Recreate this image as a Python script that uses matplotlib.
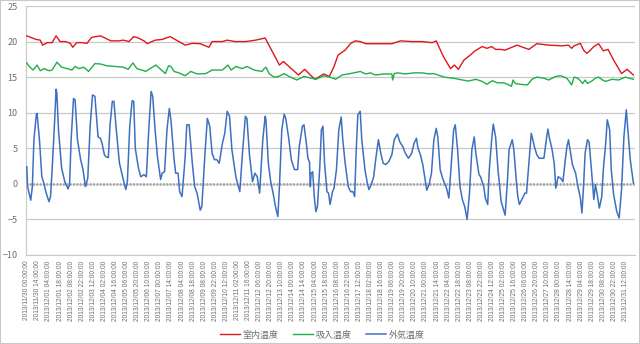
import matplotlib
matplotlib.use("Agg")
import matplotlib.pyplot as plt
from datetime import datetime, timedelta

plt.rcParams['font.family'] = ['Noto Sans CJK JP', 'DejaVu Sans']

# hours counted from 2013/11/30 00:00
out_h = [0, 1, 5, 7, 9, 12, 13, 16, 19, 22, 24, 28, 30, 32, 35, 37, 38, 40, 44, 48, 52, 54, 56, 59, 61, 64, 68, 71, 74, 77,
         80, 83, 86, 88, 90, 93, 95, 98, 100, 103, 105, 108, 110, 113, 117, 121, 125, 127, 130, 133, 135, 137, 141, 144,
         148, 151, 154, 157, 159, 162, 165, 169, 171, 174, 177, 180, 182, 186, 188, 191, 193, 196, 200, 202, 205, 209, 212,
         215, 219, 221, 225, 228, 231, 234, 237, 240, 243, 247, 250, 253, 256, 259, 264, 266, 269, 272, 276, 278, 281, 285,
         288, 291, 294, 298, 301, 302, 305, 308, 311, 314, 317, 319, 322, 325, 327, 331, 334, 338, 342, 344, 348, 350, 353,
         355, 357, 358, 359, 361, 363, 365, 367, 370, 372, 374, 376, 379, 381, 383, 386, 388, 391, 394, 397, 399, 402, 406,
         409, 412, 414, 416, 418, 421, 423, 427, 430, 432, 435, 438, 441, 444, 447, 450, 453, 457, 461, 464, 468, 471, 475,
         478, 482, 486, 489, 492, 494, 497, 500, 503, 505, 508, 511, 514, 517, 519, 522, 525, 530, 533, 536, 539, 541, 544,
         547, 550, 553, 556, 559, 562, 565, 567, 571, 573, 577, 579, 582, 584, 587, 589, 592, 595, 598, 599, 604, 607, 609,
         613, 615, 618, 620, 622, 625, 629, 631, 634, 637, 639, 641, 644, 647, 653, 656, 658, 660, 663, 666, 668, 671, 674,
         677, 680, 682, 684, 686, 689, 693, 696, 699, 701, 703, 705, 708, 710, 713, 716, 718, 720, 723, 726, 728, 731, 733,
         736, 738, 741, 745, 748, 751, 754, 757, 759, 762, 766]
out_v = [2.4, -0.4, -2.3, -0.4, 6.2, 9.7, 9.9, 6.2, 1.0, -0.1, -1.1, -2.5, -1.8, 2.0, 8.5, 13.3, 12.7, 7.6, 2.2, 0.3, -0.7,
         -0.1, 6.2, 12.0, 11.8, 6.2, 3.4, 2.0, -0.4, 0.8, 8.1, 12.5, 12.3, 9.5, 6.6, 6.4, 5.7, 4.1, 3.8, 3.7, 8.1, 11.6, 11.6,
         7.6, 2.9, 1.0, -0.8, 0.3, 8.1, 11.7, 11.6, 5.0, 2.2, 1.0, 1.3, 1.0, 7.6, 13.0, 12.3, 7.6, 3.8, 0.6, 1.5, 1.7, 7.6,
         10.6, 9.0, 3.4, 1.5, 1.5, -1.1, -1.8, 3.8, 8.3, 8.3, 2.9, -0.4, -1.3, -3.7, -3.2, 4.3, 9.2, 8.1, 4.3, 3.4, 3.4, 2.9,
         5.7, 7.1, 10.2, 9.5, 4.8, 1.0, 0.1, -1.1, 3.8, 9.5, 9.2, 4.3, 0.3, 1.5, 1.0, -1.3, 6.2, 9.5, 9.0, 2.9, 0.3, -1.3,
         -3.2, -4.6, -0.4, 7.6, 9.8, 9.2, 6.2, 3.4, 2.0, 2.0, 5.2, 8.1, 8.3, 5.7, 3.6, 3.1, -0.4, 1.5, 1.7, -1.8, -3.9, -3.2,
         2.4, 7.6, 8.1, 2.9, -1.1, -1.3, -2.9, -1.1, -0.6, 2.0, 7.6, 9.4, 6.2, 2.9, -0.4, -1.1, -1.1, -1.8, 4.8, 9.7, 10.2,
         6.2, 2.0, 0.1, -0.8, -0.1, 1.0, 3.8, 6.2, 4.3, 2.9, 2.7, 3.1, 4.1, 6.2, 7.0, 5.9, 5.2, 4.3, 3.6, 4.3, 5.7, 6.4, 5.0,
         4.1, 2.7, 0.6, -0.9, -0.1, 1.5, 6.2, 7.8, 6.6, 2.0, 0.8, -0.6, -2.0, 2.9, 7.6, 8.3, 4.8, -0.4, -2.2, -3.2, -5.0,
         -1.3, 4.8, 6.6, 4.3, 1.3, 1.0, -0.4, -2.0, -2.9, 2.0, 6.2, 8.4, 6.6, 2.0, -1.3, -2.5, -4.4, 0.6, 4.8, 6.2, 4.8, 0.6,
         -1.8, -2.9, -2.2, -1.3, -1.3, 2.9, 7.1, 6.2, 5.2, 4.1, 3.6, 3.6, 6.2, 7.7, 6.4, 5.0, 2.9, -0.6, 1.0, 0.8, 0.3, 3.4,
         5.2, 6.2, 4.8, 2.7, 1.5, -0.4, -2.0, -4.1, -0.4, 4.3, 6.2, 5.9, 2.0, -2.2, -0.1, -1.3, -3.4, -1.8, 2.0, 5.7, 9.0,
         7.6, 2.0, -1.5, -3.9, -4.8, -0.8, 6.6, 10.4, 7.6, 3.4, 0.1]

room_h = [0, 7, 12, 17, 20, 26, 32, 37, 42, 49, 55, 58, 63, 70, 76, 82, 93, 99, 106, 116, 122, 129, 135, 141, 148, 152, 162,
          171, 181, 192, 200, 209, 219, 230, 234, 247, 253, 263, 276, 289, 301, 310, 319, 324, 335, 343, 351, 358, 364,
          375, 382, 388, 393, 402, 409, 415, 421, 428, 438, 451, 461, 472, 486, 499, 512, 517, 526, 535, 540, 545, 552,
          560, 566, 575, 581, 587, 592, 598, 604, 619, 634, 644, 659, 676, 684, 688, 691, 699, 703, 707, 710, 716, 722,
          728, 734, 741, 751, 758, 766]
room_v = [20.8, 20.5, 20.3, 20.2, 19.5, 19.85, 19.85, 20.8, 20.0, 20.0, 19.75, 19.2, 19.85, 19.85, 19.75, 20.6, 20.8, 20.5,
          20.1, 20.1, 20.2, 20.0, 20.7, 20.5, 20.1, 19.7, 20.2, 20.3, 20.7, 20.0, 19.5, 19.75, 19.7, 19.2, 20.0, 20.0, 20.2,
          20.0, 20.0, 20.2, 20.5, 18.6, 16.7, 17.2, 16.1, 15.3, 16.1, 15.3, 14.7, 15.45, 15.1, 16.5, 18.1, 18.8, 19.75, 20.1,
          20.0, 19.7, 19.7, 19.7, 19.7, 20.1, 20.0, 20.0, 19.85, 20.1, 17.9, 16.2, 16.7, 16.1, 17.4, 18.1, 18.7, 19.3, 19.05,
          19.3, 18.9, 18.9, 18.8, 19.5, 18.9, 19.7, 19.5, 19.4, 19.5, 19.05, 19.4, 19.75, 18.8, 18.35, 18.6, 19.3, 19.7,
          18.7, 18.9, 17.4, 15.5, 16.1, 15.3]

intake_h = [0, 3, 8, 13, 17, 22, 28, 32, 38, 44, 51, 57, 61, 66, 72, 78, 86, 93, 101, 112, 122, 128, 134, 139, 148, 150,
            163, 169, 175, 179, 182, 186, 192, 200, 207, 215, 226, 234, 247, 254, 258, 264, 272, 278, 287, 297, 299, 302,
            306, 312, 318, 325, 331, 341, 350, 365, 375, 383, 390, 398, 406, 413, 421, 428, 434, 440, 451, 461, 462, 464,
            468, 478, 489, 499, 508, 514, 527, 539, 550, 558, 567, 575, 581, 588, 594, 602, 607, 612, 614, 617, 623, 632,
            638, 644, 653, 659, 668, 674, 682, 688, 691, 696, 702, 705, 708, 714, 718, 722, 727, 731, 739, 747, 756, 766]
intake_v = [17.0, 16.5, 16.0, 16.7, 15.9, 16.2, 15.9, 16.0, 17.1, 16.4, 16.2, 16.0, 16.5, 16.2, 16.4, 15.8, 16.9, 16.85,
            16.6, 16.5, 16.4, 16.1, 17.0, 16.2, 15.9, 15.8, 16.7, 16.1, 15.5, 16.6, 16.5, 15.8, 15.6, 15.2, 15.8, 15.45,
            15.5, 16.0, 16.0, 16.7, 16.0, 16.5, 16.2, 16.5, 16.0, 15.8, 16.1, 16.4, 15.5, 15.0, 15.1, 15.5, 15.1, 14.6,
            15.1, 14.7, 15.2, 15.0, 14.7, 15.3, 15.45, 15.6, 15.8, 15.45, 15.6, 15.3, 15.45, 15.45, 14.6, 15.5, 15.6,
            15.45, 15.6, 15.6, 15.45, 15.5, 15.0, 14.85, 14.6, 14.45, 14.7, 14.4, 14.0, 14.5, 14.2, 14.2, 14.0, 13.7,
            14.6, 14.1, 14.0, 13.9, 14.7, 15.0, 14.85, 14.6, 15.1, 15.2, 14.85, 13.9, 15.0, 14.85, 14.1, 14.6, 14.1,
            14.5, 14.85, 15.0, 14.6, 14.4, 14.7, 14.6, 15.0, 14.7]

start = datetime(2013, 11, 30)
tick_hours = list(range(0, 757, 14))
tick_labels = [(start + timedelta(hours=h)).strftime('%Y/%m/%d %H:%M:%S') for h in tick_hours]

fig = plt.figure(figsize=(6.4, 3.44), dpi=100)
ax = fig.add_axes([26 / 640, 1 - 255 / 344, 609 / 640, 249 / 344])

ax.plot(room_h, room_v, color='#e0161c', lw=1.0, label='室内温度', zorder=3)
ax.plot(intake_h, intake_v, color='#1fae48', lw=1.0, label='吸入温度', zorder=3)
ax.plot(out_h, out_v, color='#3e70c0', lw=1.1, label='外気温度', zorder=3)

ax.set_xlim(-1, 768)
ax.set_ylim(-10, 25)
ax.set_yticks(range(-10, 26, 5))
ax.yaxis.grid(True, color='#c8c8c8', lw=0.9)
ax.axhline(0, color='#a8a8a8', lw=2.0, ls=(0, (0.6, 0.6)), zorder=2)
ax.set_xticks(tick_hours)
ax.set_xticklabels(tick_labels, rotation=90, fontsize=4.8, color='#707070', family='Liberation Sans')
ax.tick_params(axis='x', length=0, pad=4)
ax.tick_params(axis='y', length=0, labelsize=6.5, labelcolor='#707070', pad=6)
for s in ['top', 'right']:
    ax.spines[s].set_visible(False)
ax.spines['left'].set_color('#c8c8c8')
ax.spines['bottom'].set_color('#c8c8c8')

fig.legend(loc='center', bbox_to_anchor=(322 / 640, 1 - 335 / 344), ncol=3, frameon=False, fontsize=6.5,
           handlelength=2.2, columnspacing=1.6, handletextpad=0.3, labelcolor='#707070', borderpad=0)

fig.patches.append(plt.Rectangle((0, 0), 1, 1, transform=fig.transFigure, fill=False,
                                 edgecolor='#c8c8c8', lw=1.5))
fig.savefig('out.png', dpi=100)
